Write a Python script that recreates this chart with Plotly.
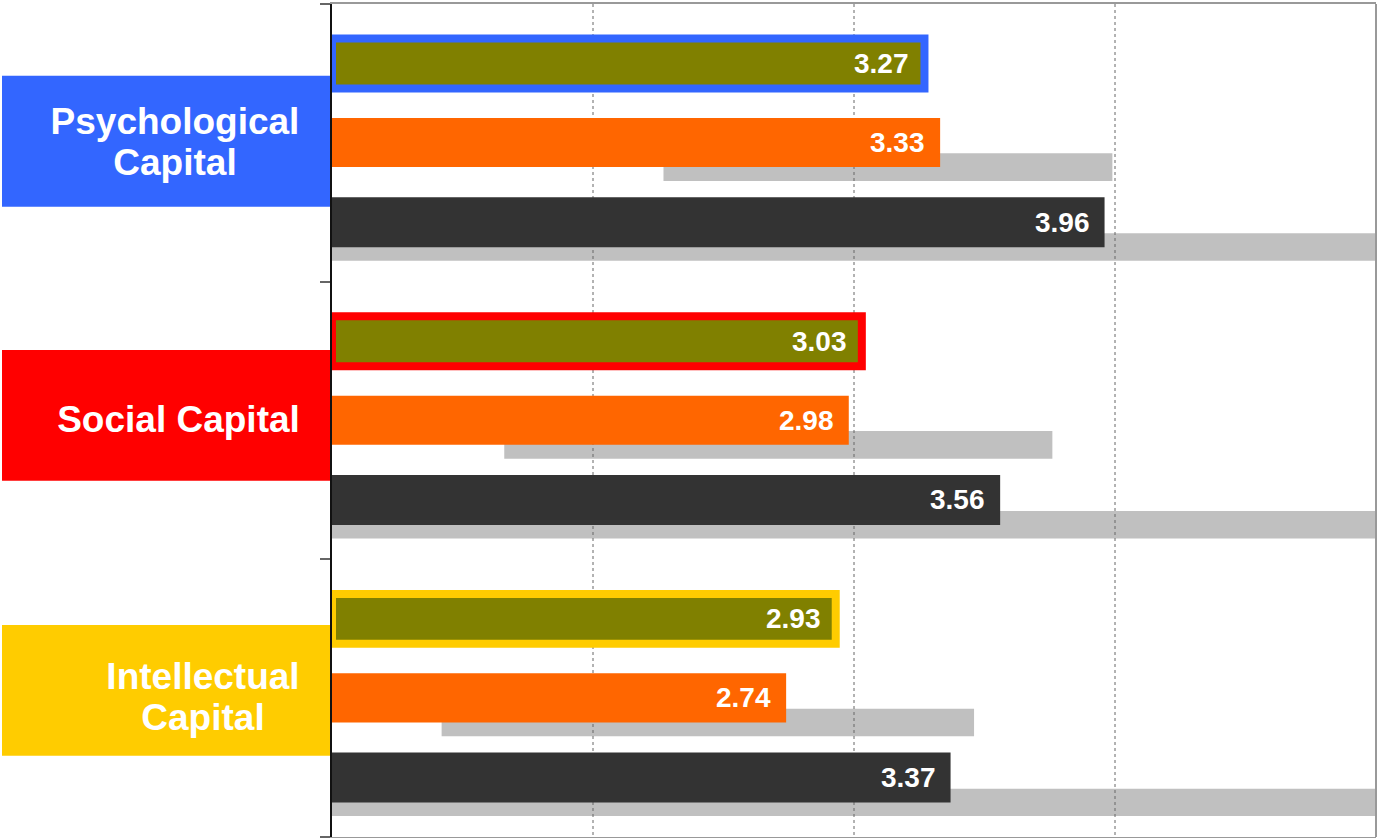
import plotly.graph_objects as go

# ---------------- data ----------------
categories = ["Psychological Capital", "Social Capital", "Intellectual Capital"]
category_label_lines = [["Psychological", "Capital"], ["Social Capital"], ["Intellectual", "Capital"]]
category_colors = ["#3366FF", "#FF0000", "#FFCC00"]

olive_values = [3.27, 3.03, 2.93]
orange_values = [3.33, 2.98, 2.74]
dark_values = [3.96, 3.56, 3.37]

orange_shadow_start = [2.27, 1.66, 1.42]
orange_shadow_end = [3.99, 3.76, 3.46]
dark_shadow_start = [1.0, 1.0, 1.0]
dark_shadow_end = [5.0, 5.0, 5.0]

grid_values = [2, 3, 4]
x_range = [1, 5]

# ---------------- layout constants ----------------
W, H = 1377, 838
ML, MR, MT, MB = 332, 1, 4, 1
FONT = "Liberation Sans, Arial, sans-serif"

OLIVE = "#808000"
ORANGE = "#FF6600"
DARK = "#333333"
SHADOW = "#C0C0C0"

# bar offsets / widths in category units (axis reversed: offset = top edge)
olive_off, olive_w = -0.3756, 0.180
orange_off, orange_w = -0.0893, 0.1765
dark_off, dark_w = 0.196, 0.180
oshadow_off, oshadow_w = 0.0378, 0.0997
dshadow_off, dshadow_w = 0.326, 0.0987

# label block widths (px) and line spacing
label_block_w = [250, 243, 194]
LINE_GAP = 41

pos = list(range(len(categories)))

fig = go.Figure()

# shadows (main subplot, below gridlines-as-traces)
fig.add_trace(go.Bar(
    y=pos, x=[e - s for s, e in zip(orange_shadow_start, orange_shadow_end)],
    base=orange_shadow_start, orientation="h", offset=oshadow_off, width=oshadow_w,
    marker=dict(color=SHADOW, line=dict(width=0)), hoverinfo="skip", xaxis="x", yaxis="y"))
fig.add_trace(go.Bar(
    y=pos, x=[e - s for s, e in zip(dark_shadow_start, dark_shadow_end)],
    base=dark_shadow_start, orientation="h", offset=dshadow_off, width=dshadow_w,
    marker=dict(color=SHADOW, line=dict(width=0)), hoverinfo="skip", xaxis="x", yaxis="y"))

# gridlines drawn as a dotted line trace so they sit above the shadows
gx, gy = [], []
for g in grid_values:
    gx += [g, g, None]
    gy += [-0.5, 2.5, None]
fig.add_trace(go.Scatter(x=gx, y=gy, mode="lines",
                         line=dict(color="#666666", width=1, dash="dot"),
                         hoverinfo="skip", xaxis="x", yaxis="y"))

# main coloured bars in overlay subplot (above gridlines)
fig.add_trace(go.Bar(
    y=pos, x=[v - x_range[0] for v in olive_values], base=x_range[0], orientation="h",
    offset=olive_off, width=olive_w,
    marker=dict(color=OLIVE, line=dict(color=category_colors, width=8)),
    xaxis="x", yaxis="y2"))
fig.add_trace(go.Bar(
    y=pos, x=[v - x_range[0] for v in orange_values], base=x_range[0], orientation="h",
    offset=orange_off, width=orange_w,
    marker=dict(color=ORANGE, line=dict(width=0)), xaxis="x", yaxis="y2"))
fig.add_trace(go.Bar(
    y=pos, x=[v - x_range[0] for v in dark_values], base=x_range[0], orientation="h",
    offset=dark_off, width=dark_w,
    marker=dict(color=DARK, line=dict(width=0)), xaxis="x", yaxis="y2"))

annotations = []
# value labels
for vals, off, w in [(olive_values, olive_off, olive_w),
                     (orange_values, orange_off, orange_w),
                     (dark_values, dark_off, dark_w)]:
    for i, v in enumerate(vals):
        annotations.append(dict(
            x=v, y=i + off + w / 2, xref="x", yref="y", text=f"{v:.2f}",
            showarrow=False, xanchor="right", yanchor="middle", xshift=-13,
            font=dict(family=FONT, size=28, color="white", weight="bold")))

# category label boxes
plot_h = H - MT - MB
plot_w = W - ML - MR
box_pix = [(75.7, 206.7), (350.0, 480.7), (625.0, 755.7)]
shapes = []
for i, ((top, bot), color, lines, bw) in enumerate(
        zip(box_pix, category_colors, category_label_lines, label_block_w)):
    y0 = (H - MB - bot) / plot_h
    y1 = (H - MB - top) / plot_h
    shapes.append(dict(type="rect", xref="paper", yref="paper",
                       x0=(2 - ML) / plot_w, x1=0, y0=y0, y1=y1,
                       fillcolor=color, line=dict(width=0), layer="below"))
    n = len(lines)
    for k, line in enumerate(lines):
        shift = ((n - 1) / 2 - k) * LINE_GAP + 1
        annotations.append(dict(
            x=(302 - ML) / plot_w, y=pos[i], xref="paper", yref="y",
            text=line, showarrow=False, xanchor="right", yanchor="middle", align="center",
            width=bw, yshift=shift,
            font=dict(family=FONT, size=37, color="white", weight="bold")))

# right frame line
shapes.append(dict(type="line", xref="paper", yref="paper", x0=1, x1=1, y0=0, y1=1,
                   line=dict(color="#999999", width=2), layer="above"))

fig.update_layout(
    width=W, height=H,
    margin=dict(l=ML, r=MR, t=MT, b=MB),
    paper_bgcolor="white", plot_bgcolor="white",
    barmode="overlay", showlegend=False,
    xaxis=dict(range=x_range, showgrid=False, zeroline=False, showticklabels=False,
               ticks="", showline=True, mirror=True, linecolor="#999999", linewidth=2,
               fixedrange=True),
    yaxis=dict(range=[2.5, -0.5], autorange=False, showgrid=False, zeroline=False,
               showticklabels=False, tickmode="array", tickvals=[-0.5, 0.5, 1.5, 2.5],
               ticks="outside", ticklen=10, tickwidth=2, tickcolor="#666666",
               showline=True, linecolor="#111111", linewidth=2, mirror=False,
               fixedrange=True),
    yaxis2=dict(range=[2.5, -0.5], autorange=False, overlaying="y", visible=False,
                fixedrange=True),
    shapes=shapes,
    annotations=annotations,
)

fig.write_html("out.html", config={"displayModeBar": False},
               post_script="document.body.style.margin='0';")
